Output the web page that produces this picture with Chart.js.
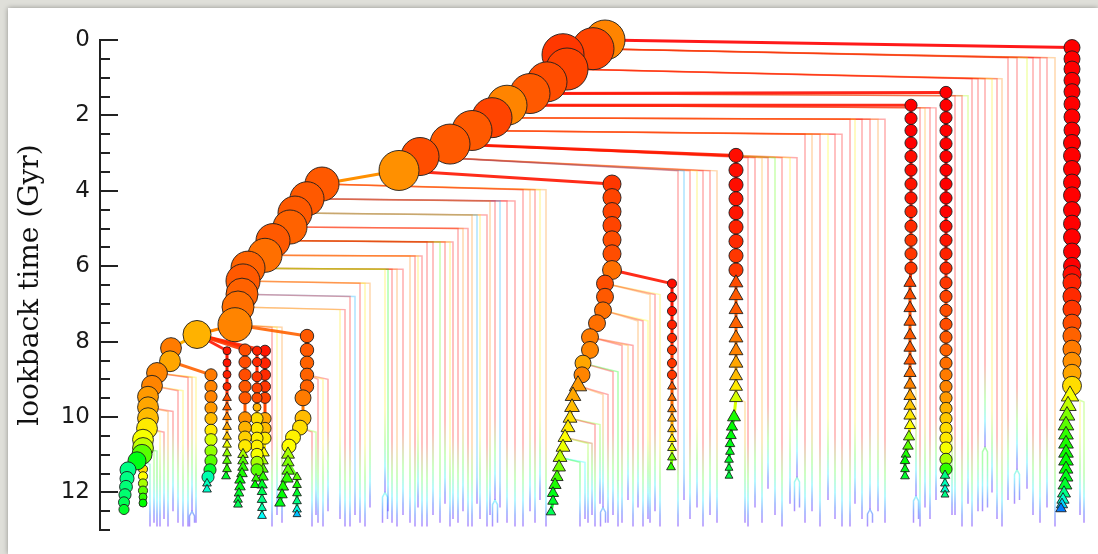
<!DOCTYPE html>
<html>
<head>
<meta charset="utf-8">
<script src="https://cdn.jsdelivr.net/npm/chart.js@4.4.0/dist/chart.umd.min.js"></script>
<style>
  html, body { margin: 0; padding: 0; width: 1098px; height: 554px; overflow: hidden; background: #dfdfd9; }
  #panel { position: absolute; left: 8px; top: 8px; width: 1090px; height: 546px; background: #fff;
           box-shadow: 0 0 5px rgba(0,0,0,0.35); }
  #tree { display: block; }
</style>
</head>
<body>
<div id="panel"><canvas id="tree" width="1090" height="546"></canvas></div>
<script>
// ---------------------------------------------------------------
// Merger tree: horizontal axis is the position in the tree layout,
// vertical axis is lookback time in Gyr. Node area ~ mass,
// node colour ~ colour index (0 = red ... 1 = violet).
// ---------------------------------------------------------------

// lookback time axis
const timeLabels = [0, 2, 4, 6, 8, 10, 12];
const timeMarks = [0, 0.5, 1, 1.5, 2, 2.5, 3, 3.5, 4, 4.5, 5, 5.5, 6, 6.5, 7, 7.5, 8, 8.5, 9, 9.5, 10, 10.5, 11, 11.5, 12, 12.5, 13];

// main progenitor branch
const trunkX = [505, 493, 463, 467, 447, 430, 407, 392, 372, 350, 320, 299, 222, 207, 195, 190, 173, 165, 148, 143, 142, 138, 135, 97, 71, 70, 57, 52, 48, 48, 48, 47, 43, 43, 42, 37, 28, 27, 26, 25, 24, 24];
const trunkT = [0.00, 0.23, 0.39, 0.77, 1.11, 1.42, 1.73, 2.06, 2.40, 2.76, 3.09, 3.46, 3.82, 4.21, 4.59, 4.96, 5.32, 5.71, 6.05, 6.39, 6.74, 7.08, 7.55, 7.81, 8.17, 8.52, 8.83, 9.17, 9.46, 9.74, 10.03, 10.30, 10.60, 10.82, 10.99, 11.16, 11.40, 11.63, 11.85, 12.06, 12.26, 12.45];
const trunkMass = [25, 27.6, 27.6, 27.6, 25, 25, 25, 25, 25, 25, 22.6, 25, 18.1, 18.1, 18.1, 18.1, 18.1, 18.1, 18.1, 18.1, 16, 16, 18.1, 12.3, 6.8, 6.8, 6.8, 6.8, 6.8, 6.8, 6.8, 6.8, 6.8, 6.8, 6.3, 5.1, 4, 3.1, 2.6, 2.3, 1.9, 1.6];
const trunkColour = [0.12, 0.06, 0.05, 0.06, 0.07, 0.08, 0.12, 0.06, 0.08, 0.08, 0.07, 0.13, 0.08, 0.08, 0.08, 0.09, 0.08, 0.10, 0.09, 0.08, 0.09, 0.10, 0.12, 0.16, 0.11, 0.15, 0.12, 0.12, 0.14, 0.15, 0.17, 0.21, 0.24, 0.29, 0.38, 0.48, 0.58, 0.58, 0.57, 0.56, 0.54, 0.50];
const trunkTri = 42;

// far right branch
const r1X = [972, 972, 972, 972, 972, 972, 972, 972, 972, 972, 972, 972, 972, 972, 972, 972, 972, 972, 972, 972, 972, 972, 972, 972, 972, 972, 972, 972, 970, 968, 967, 966, 966, 966, 966, 966, 966, 966, 965, 964, 963, 962, 961];
const r1T = [0.20, 0.50, 0.77, 1.07, 1.37, 1.70, 2.04, 2.39, 2.73, 3.07, 3.42, 3.78, 4.12, 4.51, 4.87, 5.23, 5.61, 5.99, 6.22, 6.44, 6.80, 7.14, 7.51, 7.85, 8.20, 8.52, 8.84, 9.17, 9.44, 9.70, 9.96, 10.22, 10.47, 10.71, 10.95, 11.16, 11.38, 11.59, 11.80, 12.02, 12.19, 12.32, 12.43];
const r1Mass = [4, 4, 4, 4, 4, 4, 4, 4, 4.5, 4.5, 4.5, 4.5, 4.5, 4.5, 4.5, 4.5, 4.5, 4.5, 5.1, 5.1, 5.1, 5.1, 5.1, 5.1, 5.1, 5.1, 5.1, 5.6, 6.3, 5.6, 5.1, 5.1, 4.5, 4.5, 4.5, 4.5, 4, 4, 4, 3.5, 3.1, 2.6, 2.3];
const r1Colour = [0, 0, 0, 0, 0, 0, 0, 0, 0, 0, 0, 0, 0, 0, 0, 0, 0, 0, 0.01, 0.03, 0.04, 0.05, 0.07, 0.09, 0.11, 0.13, 0.15, 0.20, 0.24, 0.29, 0.35, 0.38, 0.42, 0.44, 0.45, 0.46, 0.46, 0.48, 0.50, 0.58, 0.65, 0.73, 0.81];
const r1Tri = 28;

// branch at 846
const c946X = [846, 846, 846, 846, 846, 846, 846, 846, 846, 846, 846, 846, 846, 846, 846, 846, 846, 846, 846, 846, 846, 846, 846, 846, 846, 846, 846, 846, 846, 846, 846, 845, 845, 845, 845];
const c946T = [1.39, 1.73, 2.06, 2.40, 2.75, 3.09, 3.45, 3.82, 4.19, 4.55, 4.94, 5.31, 5.67, 6.05, 6.44, 6.80, 7.17, 7.54, 7.88, 8.22, 8.57, 8.88, 9.19, 9.49, 9.77, 10.04, 10.30, 10.56, 10.82, 11.12, 11.38, 11.55, 11.76, 11.92, 12.06];
const c946Mass = [2.3, 2.3, 2.3, 2.3, 2.3, 2.3, 2.3, 2.3, 2.3, 2.3, 2.3, 2.3, 2.3, 2.3, 2.3, 2.3, 2.3, 2.3, 2.3, 2.3, 2.3, 2.3, 2.3, 2.3, 2.3, 2.3, 2.3, 2.3, 2.3, 2.3, 2.3, 1.9, 1.6, 1.6, 1.3];
const c946Colour = [0, 0, 0, 0, 0, 0, 0, 0, 0, 0, 0.01, 0.02, 0.03, 0.04, 0.05, 0.06, 0.07, 0.07, 0.08, 0.09, 0.10, 0.11, 0.12, 0.14, 0.16, 0.18, 0.20, 0.21, 0.24, 0.31, 0.42, 0.58, 0.63, 0.65, 0.58];
const c946Tri = 31;

// branch at 811
const c910X = [811, 811, 811, 811, 811, 811, 811, 811, 811, 811, 811, 811, 811, 810, 810, 810, 810, 810, 810, 810, 810, 810, 810, 810, 810, 810, 809, 808, 806, 805, 805, 805];
const c910T = [1.73, 2.08, 2.40, 2.73, 3.09, 3.45, 3.82, 4.19, 4.55, 4.94, 5.31, 5.67, 6.05, 6.44, 6.77, 7.11, 7.47, 7.83, 8.16, 8.50, 8.83, 9.14, 9.44, 9.70, 9.96, 10.22, 10.52, 10.77, 10.99, 11.16, 11.38, 11.57];
const c910Mass = [2.3, 2.3, 2.3, 2.3, 2.3, 2.3, 2.3, 2.3, 2.3, 2.3, 2.3, 2.3, 2.3, 3.1, 3.1, 3.1, 3.1, 3.1, 3.1, 3.1, 3.1, 3.1, 3.1, 3.1, 3.1, 2.6, 2.6, 2.3, 1.9, 1.9, 1.6, 1.6];
const c910Colour = [0, 0, 0, 0, 0.01, 0.01, 0.02, 0.02, 0.03, 0.04, 0.05, 0.05, 0.05, 0.06, 0.07, 0.07, 0.08, 0.08, 0.08, 0.08, 0.10, 0.12, 0.15, 0.18, 0.21, 0.23, 0.33, 0.38, 0.44, 0.46, 0.48, 0.50];
const c910Tri = 13;

// branch at 636
const c736X = [636, 636, 636, 636, 636, 636, 636, 636, 636, 636, 636, 636, 636, 636, 636, 636, 636, 636, 636, 634, 632, 631, 630, 630, 629, 629, 629];
const c736T = [3.06, 3.45, 3.84, 4.21, 4.58, 4.96, 5.34, 5.72, 6.10, 6.44, 6.78, 7.15, 7.52, 7.90, 8.24, 8.57, 8.91, 9.19, 9.49, 10.00, 10.26, 10.49, 10.71, 10.92, 11.13, 11.35, 11.56];
const c736Mass = [3.1, 3.1, 3.1, 3.1, 3.1, 3.1, 3.1, 3.1, 3.1, 4, 4, 4, 4, 4, 4, 4, 3.5, 3.5, 3.5, 3.5, 2.6, 2.3, 1.9, 1.6, 1.6, 1.3, 1.3];
const c736Colour = [0.01, 0.01, 0.01, 0.02, 0.02, 0.03, 0.04, 0.05, 0.05, 0.07, 0.08, 0.08, 0.09, 0.11, 0.12, 0.15, 0.17, 0.21, 0.27, 0.44, 0.46, 0.47, 0.48, 0.49, 0.50, 0.51, 0.52];
const c736Tri = 9;

// branch at 512
const c607X = [512, 512, 512, 512, 512, 512, 512, 505, 505, 503, 497, 490, 490, 483, 482, 478, 473, 472, 470, 468, 465, 463, 460, 459, 457, 455, 453, 453, 451];
const c607T = [3.82, 4.18, 4.55, 4.92, 5.30, 5.67, 6.10, 6.46, 6.81, 7.17, 7.51, 7.88, 8.22, 8.57, 8.88, 9.17, 9.44, 9.74, 10.03, 10.28, 10.54, 10.80, 11.07, 11.33, 11.59, 11.80, 12.02, 12.23, 12.52];
const c607Mass = [5.1, 5.1, 5.1, 5.1, 5.1, 5.1, 5.6, 4.5, 4.5, 4.5, 4.5, 4.5, 4.5, 4, 4, 6.3, 5.1, 4.5, 4, 4, 4, 4, 4, 3.5, 3.1, 3.1, 2.6, 2.3, 1.9];
const c607Colour = [0.05, 0.06, 0.06, 0.06, 0.07, 0.07, 0.10, 0.07, 0.08, 0.10, 0.10, 0.11, 0.12, 0.15, 0.12, 0.14, 0.15, 0.17, 0.20, 0.21, 0.23, 0.25, 0.29, 0.35, 0.40, 0.44, 0.48, 0.50, 0.54];
const c607Tri = 15;

// small branch at 572
const c671X = [572, 572, 572, 572, 572, 572, 572, 572, 572, 572, 572, 572, 572, 572, 572, 572, 571];
const c671T = [6.46, 6.82, 7.19, 7.55, 7.90, 8.22, 8.57, 8.88, 9.19, 9.49, 9.79, 10.04, 10.32, 10.58, 10.82, 11.07, 11.33];
const c671Mass = [1.3, 1.3, 1.3, 1.3, 1.3, 1.3, 1.3, 1.3, 1.6, 1.6, 1.6, 1.6, 1.6, 1.6, 1.6, 1.6, 1.6];
const c671Colour = [0.01, 0.02, 0.02, 0.03, 0.04, 0.05, 0.05, 0.05, 0.08, 0.10, 0.12, 0.15, 0.17, 0.21, 0.27, 0.35, 0.42];
const c671Tri = 8;

// branch at 207 and its side branch at 197
const c307X = [207, 207, 207, 207, 207, 203, 203, 200, 193, 189, 188, 188, 188, 187, 183, 182, 180];
const c307T = [7.85, 8.22, 8.56, 8.88, 9.19, 9.49, 10.03, 10.28, 10.54, 10.77, 10.99, 11.20, 11.42, 11.63, 11.85, 12.06, 12.28];
const c307Mass = [2.8, 2.8, 2.8, 2.8, 2.8, 4, 4, 3.5, 3.5, 3.1, 3.5, 3.1, 3.1, 3.1, 2.6, 2.3, 2.3];
const c307Colour = [0.08, 0.08, 0.09, 0.09, 0.09, 0.11, 0.17, 0.20, 0.22, 0.23, 0.31, 0.35, 0.38, 0.42, 0.44, 0.46, 0.48];
const c307Tri = 10;

const c297X = [197, 197, 197, 197, 197, 197];
const c297T = [11.59, 11.80, 12.02, 12.23, 12.45, 12.58];
const c297Mass = [1.6, 1.6, 1.6, 1.6, 1.6, 1.3];
const c297Colour = [0.38, 0.44, 0.50, 0.58, 0.67, 0.75];
const c297Tri = 0;

// left cluster of branches
const c211X = [111, 111, 111, 111, 111, 111, 111, 111, 111, 110, 108, 107, 107];
const c211T = [8.88, 9.19, 9.46, 9.76, 10.04, 10.35, 10.60, 10.90, 11.16, 11.40, 11.59, 11.76, 11.92];
const c211Mass = [2.3, 2.3, 2.3, 2.3, 2.3, 2.3, 2.3, 2.3, 2.3, 2.3, 2.3, 1.6, 1.6];
const c211Colour = [0.11, 0.12, 0.12, 0.14, 0.17, 0.21, 0.27, 0.33, 0.38, 0.50, 0.62, 0.63, 0.65];
const c211Tri = 11;

const c227X = [127, 127, 127, 127, 127, 127, 127, 127, 127, 127, 127, 127, 127, 126];
const c227T = [8.24, 8.56, 8.87, 9.19, 9.49, 9.74, 10.00, 10.26, 10.52, 10.73, 10.96, 11.16, 11.38, 11.57];
const c227Mass = [1, 1, 1, 1, 1.6, 1.6, 1.6, 1.6, 1.6, 1.6, 1.6, 1.6, 1.6, 1.6];
const c227Colour = [0.02, 0.02, 0.03, 0.04, 0.07, 0.09, 0.12, 0.15, 0.18, 0.25, 0.33, 0.38, 0.42, 0.50];
const c227Tri = 4;

const c245X = [145, 145, 145, 145, 145, 145, 145, 145, 145, 143, 143, 143, 142, 140, 140, 139, 138, 138];
const c245T = [8.22, 8.54, 8.88, 9.19, 9.49, 10.03, 10.28, 10.54, 10.77, 10.99, 11.16, 11.33, 11.50, 11.67, 11.85, 12.02, 12.19, 12.32];
const c245Mass = [2.3, 2.3, 2.3, 2.3, 2.3, 2.6, 2.6, 2.6, 2.6, 2.3, 2.3, 2.3, 2.3, 2.3, 2.3, 1.9, 1.6, 1.6];
const c245Colour = [0.07, 0.07, 0.07, 0.08, 0.08, 0.13, 0.16, 0.19, 0.21, 0.31, 0.38, 0.42, 0.44, 0.46, 0.48, 0.50, 0.52, 0.54];
const c245Tri = 9;

const c257X = [157, 157, 157, 157, 157, 157, 157, 157, 157, 157, 157, 157, 157, 156, 155];
const c257T = [8.24, 8.54, 8.93, 9.23, 9.49, 9.74, 10.04, 10.30, 10.56, 10.77, 10.99, 11.20, 11.40, 11.63, 11.80];
const c257Mass = [1.3, 1.3, 1.6, 1.6, 1.6, 1, 2.3, 2.3, 2.3, 2.3, 2.3, 2.3, 2.3, 1.6, 1.6];
const c257Colour = [0.03, 0.04, 0.05, 0.06, 0.07, 0.16, 0.20, 0.21, 0.22, 0.22, 0.24, 0.31, 0.38, 0.42, 0.46];
const c257Tri = 13;

const c265X = [165, 165, 165, 165, 165, 165, 165, 165, 164, 163, 163, 163, 162, 162, 162, 162, 162];
const c265T = [8.24, 8.57, 8.88, 9.19, 9.49, 10.04, 10.30, 10.56, 10.95, 11.16, 11.38, 11.59, 11.80, 11.98, 12.19, 12.41, 12.62];
const c265Mass = [1.9, 1.9, 1.9, 1.9, 1.9, 2.3, 2.3, 2.3, 2.3, 2.3, 2.3, 2.3, 2.3, 1.9, 1.9, 1.6, 1.6];
const c265Colour = [0.02, 0.03, 0.04, 0.05, 0.06, 0.15, 0.17, 0.21, 0.23, 0.31, 0.38, 0.42, 0.50, 0.54, 0.58, 0.62, 0.69];
const c265Tri = 8;

const c143X = [43, 43, 43, 43, 43, 43];
const c143T = [11.38, 11.57, 11.76, 11.95, 12.12, 12.28];
const c143Mass = [1.3, 1.3, 1.3, 1.3, 1, 1];
const c143Colour = [0.20, 0.23, 0.31, 0.38, 0.42, 0.46];
const c143Tri = 6;

// mergers joining resolved branches
const mergeFromX = [505, 430, 407, 350, 299, 512, 135, 97, 97, 97, 97, 70, 42, 188];
const mergeFromT = [0.00, 1.42, 1.73, 2.76, 3.46, 6.10, 7.55, 7.81, 7.81, 7.81, 7.81, 8.52, 10.99, 11.20];
const mergeToX = [972, 846, 811, 636, 512, 572, 207, 127, 145, 157, 165, 111, 43, 197];
const mergeToT = [0.20, 1.39, 1.73, 3.06, 3.82, 6.46, 7.85, 8.24, 8.22, 8.24, 8.24, 8.88, 11.38, 11.59];
const mergeColour = [0, 0.01, 0.02, 0.02, 0.02, 0.02, 0.09, 0.02, 0.05, 0.03, 0.04, 0.09, 0.21, 0.38];

// unresolved progenitors, grouped by the node they fall into
const minorSrcX = [493, 467, 430, 407, 392, 372, 350, 320, 222, 207, 195, 190, 173, 165, 148, 143, 142, 138, 135, 505, 503, 490, 483, 478, 470, 465, 460, 207, 200, 57, 52, 48, 47, 43, 37, 636, 810, 846, 970];
const minorSrcT = [0.23, 0.77, 1.42, 1.73, 2.06, 2.40, 2.76, 3.09, 3.82, 4.21, 4.59, 4.96, 5.32, 5.71, 6.05, 6.39, 6.74, 7.08, 7.55, 6.46, 7.17, 7.88, 8.57, 9.17, 10.03, 10.54, 11.07, 8.88, 10.28, 8.83, 9.17, 9.74, 10.30, 10.82, 11.16, 9.49, 9.14, 10.30, 9.44];
const minorLevelT = [0.47, 1.03, 1.48, 1.80, 2.10, 2.50, 3.12, 3.47, 3.97, 4.27, 4.64, 5.00, 5.36, 5.73, 6.08, 6.45, 6.80, 7.15, 7.62, 6.75, 7.45, 8.10, 8.80, 9.40, 10.2, 10.7, 11.2, 9.0, 10.4, 8.95, 9.3, 9.85, 10.4, 10.9, 11.25, 9.6, 9.3, 10.4, 9.6];
const minorX = [
  [908, 917, 927, 933, 940, 947, 955], [872, 878, 885, 892, 897, 902], [855, 862, 868], [820, 825, 830, 836],
  [750, 755, 762, 770, 778, 785], [705, 712, 720, 728, 735, 742], [648, 655, 662, 668, 675, 682, 690, 697],
  [578, 584, 590, 597, 603, 610, 617], [423, 430, 435, 440, 446], [390, 395, 400, 407, 415], [372, 377, 380, 387],
  [358, 363, 368], [327, 333, 340, 345, 350, 353], [310, 315, 318, 322], [285, 288, 292, 297, 303], [260, 265, 270],
  [250, 255], [240, 245], [172, 177, 182], [550, 555, 560], [538, 543, 548], [522, 528, 533], [513, 518], [503, 508],
  [495, 500], [488, 492], [480, 485], [218, 223, 228], [212, 216], [88, 92, 96], [78, 83], [68, 73], [60, 64],
  [54, 57], [50], [645], [816], [852], [980, 984]
];
const minorColour = [
  [0, 0, 0.27, 0, 0, 0, 0.12], [0, 0, 0, 0.21, 0, 0.12], [0, 0, 0.31], [0, 0.15, 0, 0],
  [0, 0.21, 0, 0, 0.12, 0], [0, 0.12, 0, 0.23, 0, 0], [0, 0, 0.15, 0, 0.38, 0, 0.21, 0],
  [0, 0.77, 0, 0.21, 0, 0, 0.12], [0, 0.12, 0, 0.21, 0.12], [0.12, 0, 0.77, 0, 0], [0.12, 0.77, 0.21, 0],
  [0, 0.12, 0], [0, 0, 0.38, 0, 0.21, 0], [0.12, 0, 0.21, 0], [0.21, 0.46, 0, 0.12, 0], [0, 0.21, 0.12],
  [0, 0.77], [0.21, 0], [0, 0.21, 0.12], [0.13, 0, 0.21], [0.12, 0, 0.23], [0, 0.15, 0], [0, 0.46], [0.12, 0],
  [0, 0.35], [0.31, 0], [0.46, 0.69], [0, 0.21, 0], [0, 0.35], [0, 0.12, 0.21], [0, 0.21], [0.12, 0], [0.21, 0],
  [0.35, 0.46], [0.58], [0.15], [0.19], [0.23], [0.23, 0.35]
];
const minorEndT = [
  [12.2, 11.4, 11.9, 12.6, 12.8, 12.4, 12.9], [12.9, 12.5, 10.8, 12.0, 12.7, 12.9], [12.6, 12.9, 12.3], [12.9, 12.4, 12.7, 12.2],
  [12.9, 12.3, 12.7, 12.45, 12.5, 12.8], [12.8, 12.5, 12.9, 12.2, 12.7, 12.9], [12.9, 12.4, 12.8, 11.9, 12.6, 12.9, 12.3, 11.6],
  [12.9, 12.2, 12.7, 12.4, 12.9, 12.6, 12.8], [12.9, 12.5, 12.8, 12.2, 12.9], [12.6, 12.2, 12.4, 12.8, 12.9], [12.9, 12.3, 12.7, 12.9],
  [12.8, 12.5, 12.9], [12.9, 12.6, 12.8, 12.3, 12.9, 12.7], [12.8, 12.9, 12.4, 12.9], [12.0, 12.5, 12.8, 12.9, 12.6], [12.8, 12.9, 12.4],
  [12.9, 12.6], [12.7, 12.9], [12.9, 12.6, 12.8], [12.8, 12.5, 12.9], [12.4, 12.9, 12.7], [12.8, 12.2, 12.9], [12.6, 12.9], [12.4, 12.8],
  [12.9, 12.3], [12.8, 12.6], [12.9, 12.7], [12.8, 12.9, 12.5], [12.9, 12.6], [12.9, 12.5, 12.8], [12.8, 12.9], [12.9, 12.5], [12.9, 12.7],
  [12.8, 12.9], [12.9], [12.8], [12.1], [12.6], [12.6, 12.8]
];

// early splits at the bottom of some unresolved progenitors
const splitX = [917, 885, 770, 816, 503, 285, 697, 395, 92];
const splitT = [11.4, 10.8, 12.45, 12.1, 12.4, 12.0, 11.6, 12.2, 12.5];
const splitEndT = [12.3, 12.5, 12.9, 12.8, 12.9, 12.8, 12.5, 12.9, 12.9];

// ---------------------------------------------------------------
const rainbow = (c, a = 1) => `hsla(${Math.round(260 * c)},100%,50%,${a})`;
const radiusOf = m => 4 * Math.sqrt(m);

// faint track colour: own colour at early times, then through green/cyan to violet at its earliest point
function fadeStroke(chart, c0, endT) {
  const ys = chart.scales && chart.scales.y;
  if (!chart.chartArea || !ys) return rainbow(c0, 0.32);
  const top = ys.getPixelForValue(0), bottom = ys.getPixelForValue(13);
  const g = chart.ctx.createLinearGradient(0, top, 0, bottom);
  const at = t => Math.min(1, Math.max(0, t / 13));
  g.addColorStop(0, rainbow(c0, 0.32));
  g.addColorStop(at(endT - 2.2), rainbow(c0, 0.32));
  g.addColorStop(at(endT - 1.3), rainbow(Math.max(c0, 0.42), 0.32));
  g.addColorStop(at(endT - 0.7), rainbow(Math.max(c0, 0.71), 0.38));
  g.addColorStop(at(endT - 0.3), rainbow(0.87, 0.42));
  g.addColorStop(at(endT), rainbow(1.0, 0.45));
  return g;
}

const chains = [
  [trunkX, trunkT, trunkMass, trunkColour, trunkTri, 0],
  [r1X, r1T, r1Mass, r1Colour, r1Tri, 1],
  [c946X, c946T, c946Mass, c946Colour, c946Tri, 1],
  [c910X, c910T, c910Mass, c910Colour, c910Tri, 1],
  [c736X, c736T, c736Mass, c736Colour, c736Tri, 1],
  [c607X, c607T, c607Mass, c607Colour, c607Tri, 1],
  [c671X, c671T, c671Mass, c671Colour, c671Tri, 1],
  [c307X, c307T, c307Mass, c307Colour, c307Tri, 1],
  [c297X, c297T, c297Mass, c297Colour, c297Tri, 1],
  [c211X, c211T, c211Mass, c211Colour, c211Tri, 1],
  [c227X, c227T, c227Mass, c227Colour, c227Tri, 1],
  [c245X, c245T, c245Mass, c245Colour, c245Tri, 1],
  [c257X, c257T, c257Mass, c257Colour, c257Tri, 1],
  [c265X, c265T, c265Mass, c265Colour, c265Tri, 1],
  [c143X, c143T, c143Mass, c143Colour, c143Tri, 1]
];

const datasets = [];

chains.forEach(([xs, ts, ms, cs, tri, order]) => {
  datasets.push({
    order, clip: false, showLine: true,
    data: xs.map((x, i) => ({ x, y: ts[i] })),
    pointRadius: ms.map(radiusOf),
    pointHoverRadius: ms.map(radiusOf),
    pointStyle: xs.map((_, i) => (i >= tri ? 'triangle' : 'circle')),
    pointBackgroundColor: cs.map(c => rainbow(c)),
    pointBorderColor: 'rgba(30,30,30,0.9)',
    pointBorderWidth: 1,
    borderWidth: 3,
    borderColor: rainbow(cs[0]),
    segment: { borderColor: s => rainbow(cs[s.p0DataIndex]) }
  });
});

mergeFromX.forEach((x0, i) => {
  datasets.push({
    order: 2, clip: false, showLine: true, pointRadius: 0,
    data: [{ x: x0, y: mergeFromT[i] }, { x: mergeToX[i], y: mergeToT[i] }],
    borderColor: rainbow(mergeColour[i], 0.9),
    borderWidth: 3
  });
});

minorSrcX.forEach((sx, b) => {
  minorX[b].forEach((dx, k) => {
    const c0 = minorColour[b][k], endT = minorEndT[b][k];
    datasets.push({
      order: 3, clip: false, showLine: true, pointRadius: 0,
      data: [{ x: sx, y: minorSrcT[b] }, { x: dx, y: minorLevelT[b] }, { x: dx, y: endT }],
      borderColor: ctx => fadeStroke(ctx.chart, c0, endT),
      borderWidth: 1.5
    });
  });
});

splitX.forEach((x, i) => {
  const t0 = splitT[i], t1 = splitEndT[i];
  datasets.push({
    order: 3, clip: false, showLine: true, pointRadius: 0,
    data: [{ x: x - 2.5, y: t1 }, { x: x - 2.5, y: t0 + 0.12 }, { x, y: t0 }, { x: x + 2.5, y: t0 + 0.12 }, { x: x + 2.5, y: t1 - 0.1 }],
    borderColor: ctx => fadeStroke(ctx.chart, 0.46, t1),
    borderWidth: 1.5
  });
});

// inward tick marks on the time axis
const inwardTicks = {
  id: 'inwardTicks',
  beforeDatasetsDraw(chart) {
    const { ctx, scales: { y }, chartArea } = chart;
    ctx.save();
    ctx.strokeStyle = '#222';
    ctx.lineWidth = 2;
    timeMarks.forEach(v => {
      const py = Math.round(y.getPixelForValue(v));
      const len = timeLabels.includes(v) ? 18 : 10;
      ctx.beginPath();
      ctx.moveTo(chartArea.left, py);
      ctx.lineTo(chartArea.left + len, py);
      ctx.stroke();
    });
    ctx.restore();
  }
};

new Chart(document.getElementById('tree'), {
  type: 'scatter',
  data: { datasets },
  options: {
    responsive: false,
    animation: false,
    events: [],
    layout: { autoPadding: false, padding: { left: 0, right: 8, top: 32, bottom: 9 } },
    plugins: { legend: { display: false }, tooltip: { enabled: false } },
    scales: {
      x: { type: 'linear', min: 0, max: 990, display: false },
      y: {
        type: 'linear', reverse: true, min: 0, max: 13,
        afterFit: s => { s.width = 92; },
        afterBuildTicks: s => { s.ticks = timeLabels.map(v => ({ value: v })); },
        grid: { display: true, drawOnChartArea: false, drawTicks: false },
        border: { display: true, color: '#222', width: 2 },
        ticks: { padding: 10, color: '#1a1a1a', font: { family: 'DejaVu Sans', size: 23 } },
        title: {
          display: true, text: 'lookback time (Gyr)', color: '#111',
          font: { family: 'DejaVu Serif', size: 28 }, padding: { top: 6, bottom: 0 }
        }
      }
    }
  },
  plugins: [inwardTicks]
});
</script>
</body>
</html>
